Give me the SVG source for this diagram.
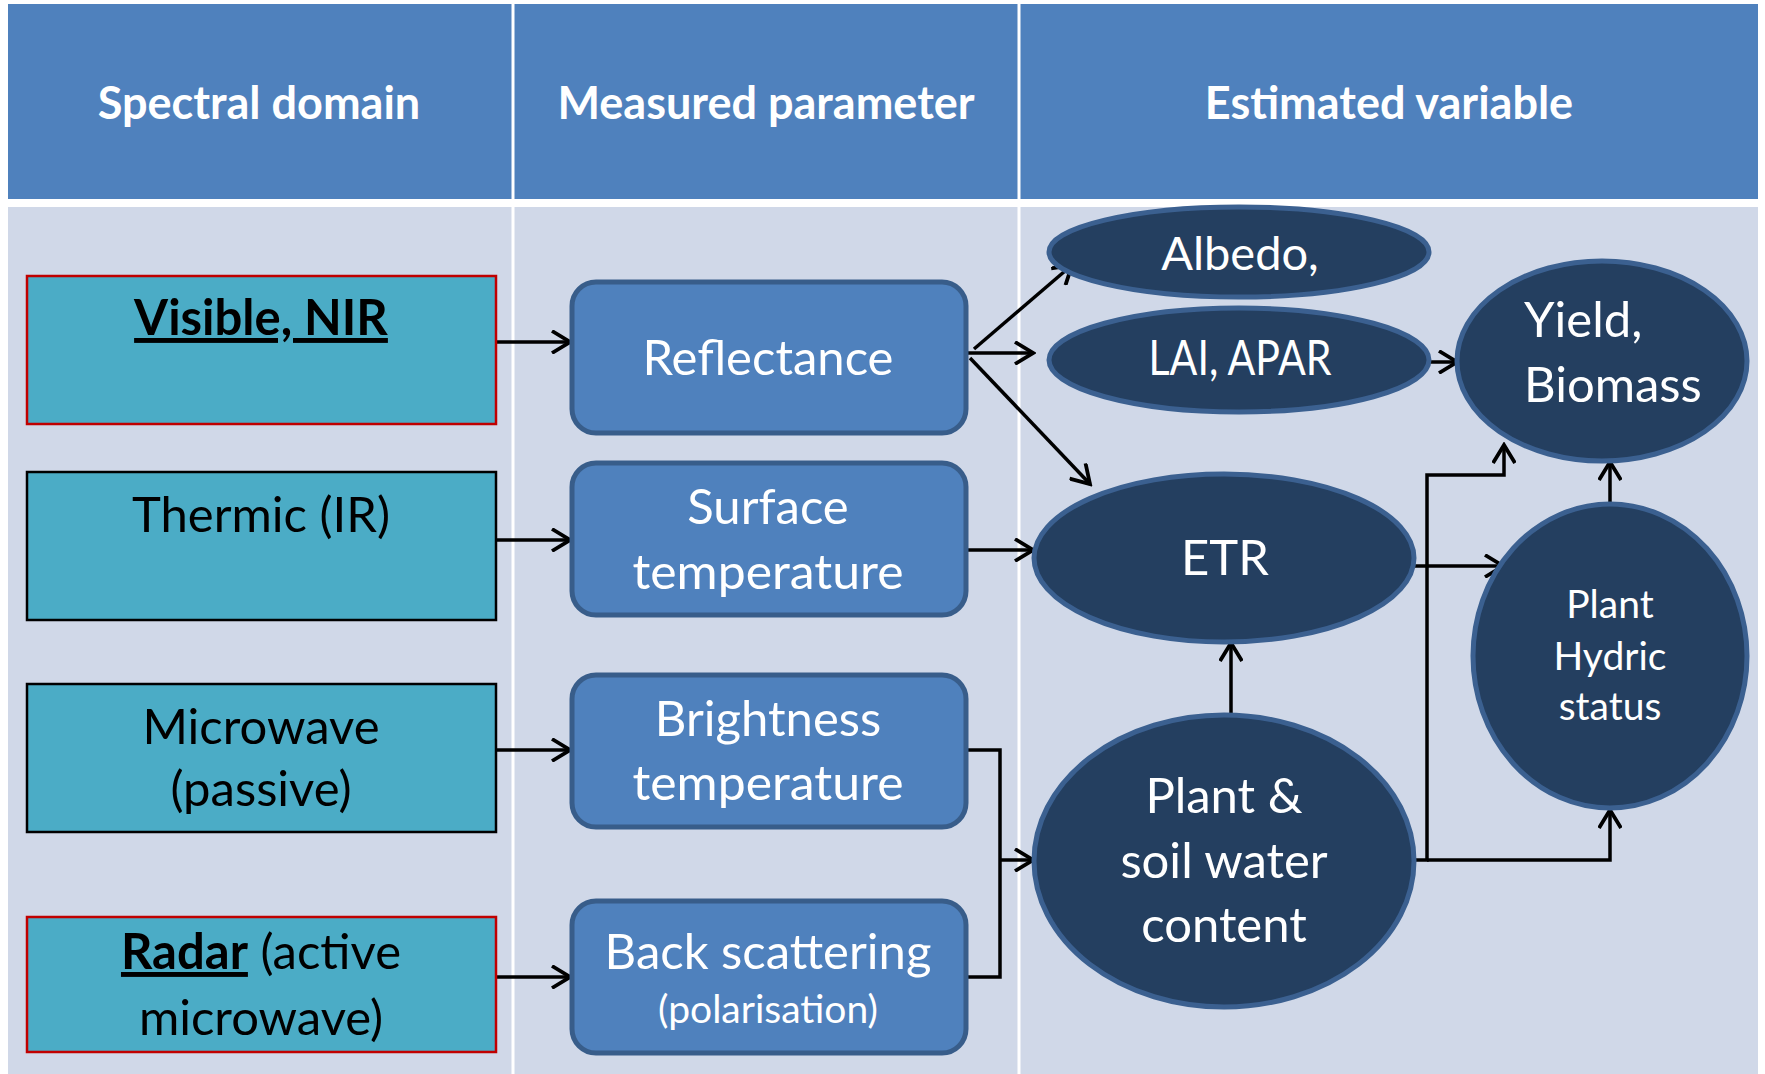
<svg xmlns="http://www.w3.org/2000/svg" width="1765" height="1074" viewBox="0 0 1765 1074">
<defs>
<style>
.hdr{fill:#4F81BD}
.body{fill:#D0D8E8}
.sep{stroke:#FFFFFF;stroke-width:3}
.htxt{font-family:Lato,"Open Sans",sans-serif;font-weight:bold;font-size:45px;fill:#FFFFFF;text-anchor:middle}
.src{fill:#4BACC6;stroke-width:2.5}
.red{stroke:#C00000}
.blk{stroke:#000000}
.stxt{font-family:Lato,"Open Sans",sans-serif;font-size:49px;fill:#000000;text-anchor:middle}
.mid{fill:#4F81BD;stroke:#385D8A;stroke-width:5}
.mtxt{font-family:Lato,"Open Sans",sans-serif;font-size:49px;fill:#FFFFFF;text-anchor:middle}
.ell{fill:#243F60;stroke:#3B6090;stroke-width:5}
.etxt{font-family:Lato,"Open Sans",sans-serif;font-size:49px;fill:#FFFFFF;text-anchor:middle}
text.small{font-size:39px}
text.left{text-anchor:start}
.conn{fill:none;stroke:#000000;stroke-width:3.5;marker-end:url(#arr)}
.line{fill:none;stroke:#000000;stroke-width:3.5}
</style>
<marker id="arr" viewBox="0 0 24 24" markerWidth="24" markerHeight="24" refX="21" refY="12" orient="auto" markerUnits="userSpaceOnUse">
<path d="M3,1 L21,12 L3,23" fill="none" stroke="#000000" stroke-width="3.8"/>
</marker>
</defs>
<rect x="0" y="0" width="1765" height="1074" fill="#FFFFFF"/>
<g id="table">
<rect class="hdr" x="8" y="4" width="1750" height="195"/>
<rect class="body" x="8" y="207" width="1750" height="867"/>
<line class="sep" x1="513" y1="0" x2="513" y2="1074"/>
<line class="sep" x1="1019" y1="0" x2="1019" y2="1074"/>
<text class="htxt" x="259" y="119">Spectral domain</text>
<text class="htxt" x="766" y="119">Measured parameter</text>
<text class="htxt" x="1389" y="119">Estimated variable</text>
</g>
<g id="connectors">
<path class="conn" d="M496,342 H570"/>
<path class="conn" d="M496,540 H570"/>
<path class="conn" d="M496,750 H570"/>
<path class="conn" d="M496,977 H570"/>
<path class="conn" d="M960,353 H1033"/>
<path class="conn" d="M974,349 L1072,265"/>
<path class="conn" d="M970,358 L1090,484"/>
<path class="conn" d="M1430,362 H1457"/>
<path class="conn" d="M960,550 H1033"/>
<path class="conn" d="M1415,566 H1503"/>
<path class="conn" d="M1415,860 H1427 V475 H1504 V445"/>
<path class="conn" d="M1427,860 H1610 V810"/>
<path class="conn" d="M1610,505 V462"/>
<path class="conn" d="M1231,717 V643"/>
<path class="line" d="M966,750 H1000 V977 H966"/>
<path class="conn" d="M1000,860 H1033"/>
</g>
<g id="visible">
<rect class="src red" x="27" y="276" width="469" height="148"/>
<text class="stxt" x="261" y="335" font-weight="bold" text-decoration="underline">Visible, NIR</text>
</g>
<g id="thermic">
<rect class="src blk" x="27" y="472" width="469" height="148"/>
<text class="stxt" x="261" y="532">Thermic (IR)</text>
</g>
<g id="microwave">
<rect class="src blk" x="27" y="684" width="469" height="148"/>
<text class="stxt" x="261" y="744">Microwave</text>
<text class="stxt" x="261" y="806">(passive)</text>
</g>
<g id="radar">
<rect class="src red" x="27" y="917" width="469" height="135"/>
<text class="stxt" x="261" y="969"><tspan font-weight="bold" text-decoration="underline">Radar</tspan> (active</text>
<text class="stxt" x="261" y="1035">microwave)</text>
</g>
<g id="reflectance">
<rect class="mid" x="572" y="282" width="394" height="151" rx="24"/>
<text class="mtxt" x="768" y="375">Reflectance</text>
</g>
<g id="surface">
<rect class="mid" x="572" y="463" width="394" height="152" rx="24"/>
<text class="mtxt" x="768" y="524">Surface</text>
<text class="mtxt" x="768" y="589" textLength="271" lengthAdjust="spacingAndGlyphs">temperature</text>
</g>
<g id="brightness">
<rect class="mid" x="572" y="675" width="394" height="152" rx="24"/>
<text class="mtxt" x="768" y="736">Brightness</text>
<text class="mtxt" x="768" y="800" textLength="271" lengthAdjust="spacingAndGlyphs">temperature</text>
</g>
<g id="backscatter">
<rect class="mid" x="572" y="901" width="394" height="152" rx="24"/>
<text class="mtxt" x="768" y="969">Back scattering</text>
<text class="mtxt small" x="768" y="1023">(polarisation)</text>
</g>
<g id="albedo">
<ellipse class="ell" cx="1239" cy="252" rx="190" ry="45"/>
<text class="etxt" x="1240" y="270" style="font-size:47px">Albedo,</text>
</g>
<g id="lai">
<ellipse class="ell" cx="1239" cy="360" rx="190" ry="52"/>
<text class="etxt" x="1240" y="375" textLength="183" lengthAdjust="spacingAndGlyphs">LAI, APAR</text>
</g>
<g id="yield">
<ellipse class="ell" cx="1602" cy="361" rx="145" ry="100"/>
<text class="etxt left" x="1524" y="337">Yield,</text>
<text class="etxt left" x="1524" y="402">Biomass</text>
</g>
<g id="etr">
<ellipse class="ell" cx="1224" cy="558" rx="190" ry="84"/>
<text class="etxt" x="1225" y="575">ETR</text>
</g>
<g id="hydric">
<ellipse class="ell" cx="1610" cy="656" rx="137" ry="152"/>
<text class="etxt small" x="1610" y="618">Plant</text>
<text class="etxt small" x="1610" y="670">Hydric</text>
<text class="etxt small" x="1610" y="720">status</text>
</g>
<g id="soilwater">
<ellipse class="ell" cx="1224" cy="861" rx="190" ry="146"/>
<text class="etxt" x="1224" y="813">Plant &amp;</text>
<text class="etxt" x="1224" y="878">soil water</text>
<text class="etxt" x="1224" y="942">content</text>
</g>
</svg>
